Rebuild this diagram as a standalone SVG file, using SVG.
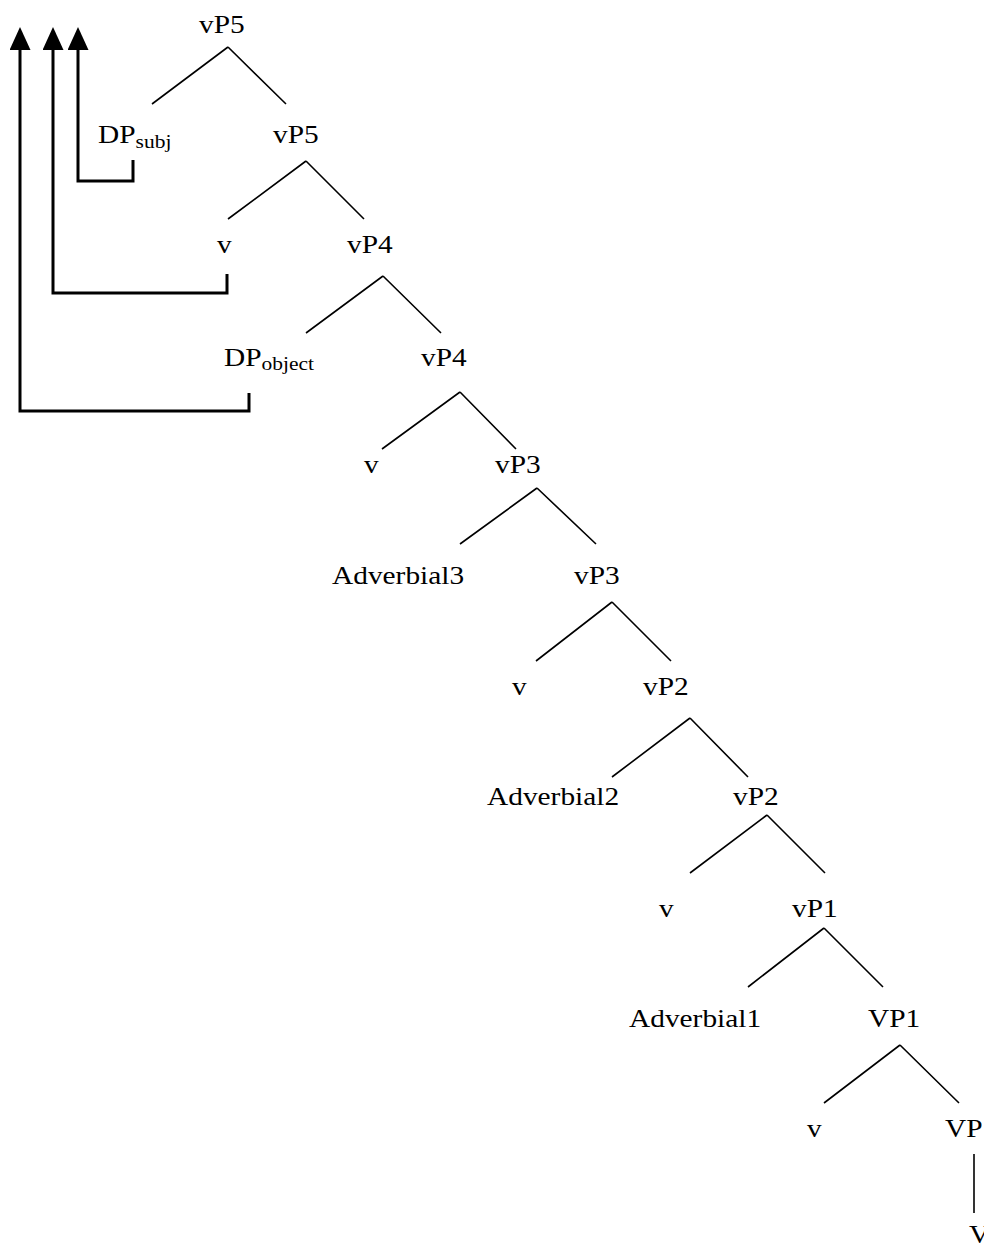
<svg xmlns="http://www.w3.org/2000/svg" width="984" height="1246" viewBox="0 0 984 1246">
<style>
text{font-family:"Liberation Serif","Times New Roman",serif;font-size:26px;fill:#000}
.sub{font-size:19px}
.br{stroke:#000;stroke-width:1.6;fill:none;stroke-linecap:butt}
.mv{stroke:#000;stroke-width:3;fill:none;stroke-linejoin:miter}
</style>
<defs>
<marker id="ah" viewBox="0 0 23 21" refX="10" refY="10.5" markerWidth="23" markerHeight="21" markerUnits="userSpaceOnUse" orient="auto">
<path d="M0,0 L23,10.5 L0,21 Z" fill="#000"/>
</marker>
</defs>
<rect width="984" height="1246" fill="#fff"/>
<g id="connectors">
<path class="br" d="M228,47 L152,104 M228,47 L286,104"/>
<path class="br" d="M306,161 L228,219 M306,161 L364,219"/>
<path class="br" d="M383,276 L306,333 M383,276 L441,333"/>
<path class="br" d="M460,392 L382,449 M460,392 L516,449"/>
<path class="br" d="M537,488 L460,544 M537,488 L596,544"/>
<path class="br" d="M612,602 L536,661 M612,602 L671,661"/>
<path class="br" d="M690,718 L612,777 M690,718 L748,777"/>
<path class="br" d="M767,815 L690,873 M767,815 L825,873"/>
<path class="br" d="M824,928 L748,987 M824,928 L883,987"/>
<path class="br" d="M900,1045 L824,1103 M900,1045 L959,1103"/>
<path class="br" d="M974,1154 L974,1213"/>
<path class="mv" d="M133,160 L133,181 L78,181 L78,40" marker-end="url(#ah)"/>
<path class="mv" d="M227,274 L227,293 L53,293 L53,40" marker-end="url(#ah)"/>
<path class="mv" d="M249,393 L249,411 L20,411 L20,40" marker-end="url(#ah)"/>
</g>
<g id="n_vP5_top"><text transform="translate(199,33) scale(1.13,1)">vP5</text></g>
<g id="n_DPsubj"><text transform="translate(98,143) scale(1.13,1)">DP<tspan class="sub" dy="5">subj</tspan></text></g>
<g id="n_vP5_bar"><text transform="translate(273,143) scale(1.13,1)">vP5</text></g>
<g id="n_v5"><text transform="translate(217,253) scale(1.13,1)">v</text></g>
<g id="n_vP4_top"><text transform="translate(347,253) scale(1.13,1)">vP4</text></g>
<g id="n_DPobject"><text transform="translate(224,366) scale(1.13,1)">DP<tspan class="sub" dy="4">object</tspan></text></g>
<g id="n_vP4_bar"><text transform="translate(421,366) scale(1.13,1)">vP4</text></g>
<g id="n_v4"><text transform="translate(364,473) scale(1.13,1)">v</text></g>
<g id="n_vP3_top"><text transform="translate(495,473) scale(1.13,1)">vP3</text></g>
<g id="n_Adv3"><text transform="translate(332,584) scale(1.13,1)">Adverbial3</text></g>
<g id="n_vP3_bar"><text transform="translate(574,584) scale(1.13,1)">vP3</text></g>
<g id="n_v3"><text transform="translate(512,695) scale(1.13,1)">v</text></g>
<g id="n_vP2_top"><text transform="translate(643,695) scale(1.13,1)">vP2</text></g>
<g id="n_Adv2"><text transform="translate(487,805) scale(1.13,1)">Adverbial2</text></g>
<g id="n_vP2_bar"><text transform="translate(733,805) scale(1.13,1)">vP2</text></g>
<g id="n_v2"><text transform="translate(659,917) scale(1.13,1)">v</text></g>
<g id="n_vP1"><text transform="translate(792,917) scale(1.13,1)">vP1</text></g>
<g id="n_Adv1"><text transform="translate(629,1027) scale(1.13,1)">Adverbial1</text></g>
<g id="n_VP1"><text transform="translate(868,1027) scale(1.13,1)">VP1</text></g>
<g id="n_v1"><text transform="translate(807,1137) scale(1.13,1)">v</text></g>
<g id="n_VP"><text transform="translate(945,1137) scale(1.13,1)">VP</text></g>
<g id="n_V"><text transform="translate(969,1243) scale(1.13,1)">V</text></g>
</svg>
